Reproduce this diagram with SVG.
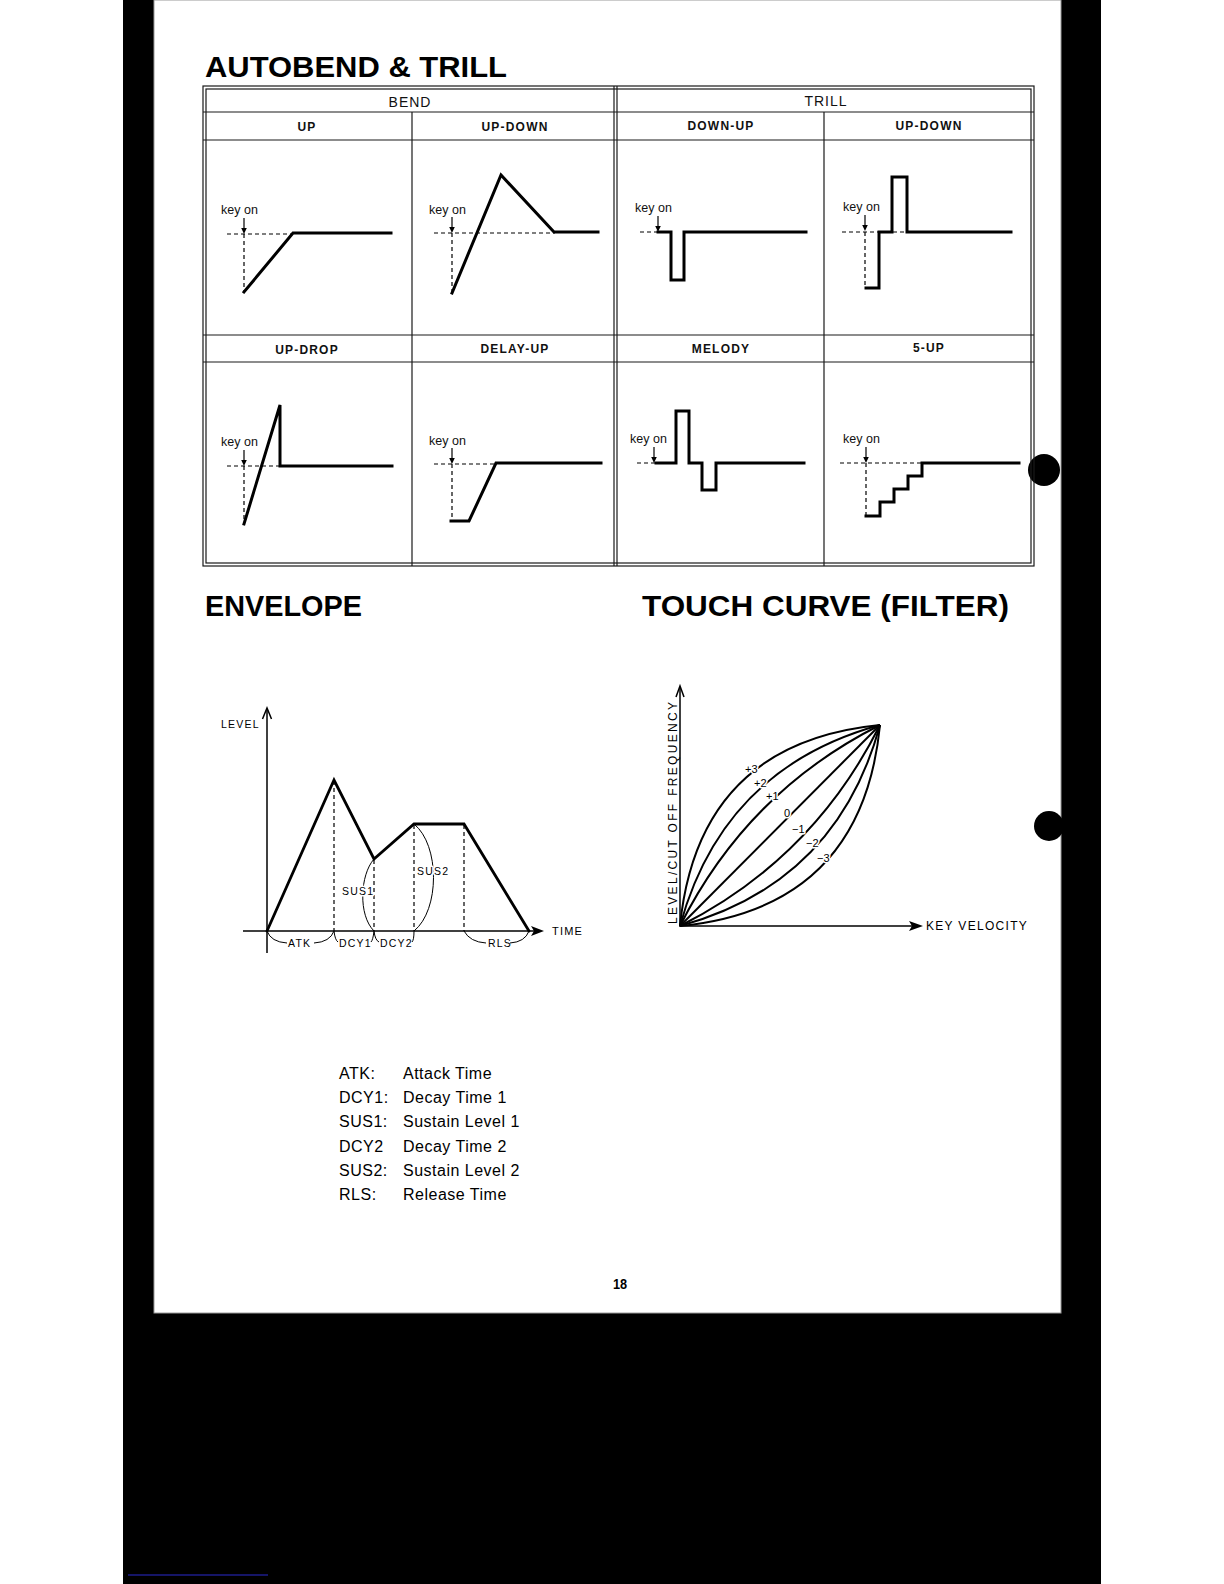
<svg xmlns="http://www.w3.org/2000/svg" width="1224" height="1584" viewBox="0 0 1224 1584">
<style>
.sans{font-family:"Liberation Sans",Arial,sans-serif}
.ttl{font-family:"Liberation Sans",Arial,sans-serif;font-size:29px;font-weight:bold;fill:#000}
.tb{fill:none;stroke:#1a1a1a;stroke-width:1.2}
.th{font-family:"Liberation Sans",Arial,sans-serif;font-size:14px;fill:#111;text-anchor:middle;letter-spacing:1px}
.tl{font-family:"Liberation Sans",Arial,sans-serif;font-size:12px;font-weight:bold;fill:#111;text-anchor:middle;letter-spacing:1.2px}
.ko{font-family:"Liberation Sans",Arial,sans-serif;font-size:12.5px;fill:#111}
.w{fill:none;stroke:#000;stroke-width:3;stroke-linejoin:miter;stroke-linecap:square}
.d{fill:none;stroke:#000;stroke-width:1.2;stroke-dasharray:4 3}
.ar{stroke:#000;stroke-width:1.2}
.ah{fill:#000}
.ax{fill:none;stroke:#000;stroke-width:1.5}
.el{font-family:"Liberation Sans",Arial,sans-serif;font-size:10.5px;fill:#000;letter-spacing:1.2px}
.halo{paint-order:stroke;stroke:#fff;stroke-width:3px;stroke-linejoin:round}
.cv{fill:none;stroke:#000;stroke-width:2}
.br{fill:none;stroke:#000;stroke-width:1}
.lg{font-family:"Liberation Sans",Arial,sans-serif;font-size:16px;fill:#000;letter-spacing:0.5px}
</style>
<defs>
<g id="kon"><line x1="0" y1="0" x2="0" y2="11" class="ar"/><polygon points="-2.8,10 2.8,10 0,16" class="ah"/></g>
</defs>
<rect x="0" y="0" width="1224" height="1584" fill="#fff"/>
<rect x="123" y="0" width="978" height="1584" fill="#000"/>
<rect x="154" y="0" width="907" height="1313" fill="#fff" stroke="#9a9a9a" stroke-width="1"/>
<line x1="128" y1="1575" x2="268" y2="1575" stroke="#1c1c8a" stroke-width="1.6"/>
<circle cx="1044" cy="470" r="16" fill="#000"/>
<circle cx="1049" cy="826" r="15" fill="#000"/>

<text class="ttl" x="205" y="77" textLength="302" lengthAdjust="spacingAndGlyphs">AUTOBEND &amp; TRILL</text>

<g id="table">
<rect class="tb" x="203" y="86" width="831" height="480"/>
<rect class="tb" x="206" y="89" width="825" height="474"/>
<line class="tb" x1="203" y1="112" x2="1034" y2="112"/>
<line class="tb" x1="203" y1="140" x2="1034" y2="140"/>
<line class="tb" x1="203" y1="335" x2="1034" y2="335"/>
<line class="tb" x1="203" y1="362" x2="1034" y2="362"/>
<line class="tb" x1="614" y1="86" x2="614" y2="566"/>
<line class="tb" x1="617" y1="86" x2="617" y2="566"/>
<line class="tb" x1="412" y1="112" x2="412" y2="566"/>
<line class="tb" x1="824" y1="112" x2="824" y2="566"/>
<text class="th" x="410" y="107">BEND</text>
<text class="th" x="826" y="106">TRILL</text>
<text class="tl" x="307" y="131">UP</text>
<text class="tl" x="515" y="131">UP-DOWN</text>
<text class="tl" x="721" y="130">DOWN-UP</text>
<text class="tl" x="929" y="130">UP-DOWN</text>
<text class="tl" x="307" y="354">UP-DROP</text>
<text class="tl" x="515" y="353">DELAY-UP</text>
<text class="tl" x="721" y="353">MELODY</text>
<text class="tl" x="929" y="352">5-UP</text>
</g>

<g id="cell-up">
<text class="ko" x="221" y="214">key on</text>
<use href="#kon" x="244" y="218"/>
<path class="d" d="M227,234 H293 M244,234 V292"/>
<path class="w" d="M244,292 L293,233 H391"/>
</g>

<g id="cell-updown">
<text class="ko" x="429" y="214">key on</text>
<use href="#kon" x="452" y="217"/>
<path class="d" d="M434,233 H555 M452,233 V292"/>
<path class="w" d="M452,293 L501,175 L554,232 H598"/>
</g>

<g id="cell-downup">
<text class="ko" x="635" y="212">key on</text>
<use href="#kon" x="658" y="216"/>
<path class="d" d="M640,232 H658"/>
<path class="w" d="M658,232 H671 V280 H684 V232 H806"/>
</g>

<g id="cell-trill-updown">
<text class="ko" x="843" y="211">key on</text>
<use href="#kon" x="865" y="215"/>
<path class="d" d="M842,232 H880 M865,232 V288 M893,232 H908"/>
<path class="w" d="M866,288 H879 V232 H892 V177 H907 V232 H1011"/>
</g>

<g id="cell-updrop">
<text class="ko" x="221" y="446">key on</text>
<use href="#kon" x="244" y="450"/>
<path class="d" d="M227,466 H280 M244,466 V523"/>
<path class="w" d="M244,524 L280,405 V466 H392"/>
</g>

<g id="cell-delayup">
<text class="ko" x="429" y="445">key on</text>
<use href="#kon" x="452" y="448"/>
<path class="d" d="M434,464 H497 M452,464 V521"/>
<path class="w" d="M451,521 H469 L496,463 H601"/>
</g>

<g id="cell-melody">
<text class="ko" x="630" y="443">key on</text>
<use href="#kon" x="654" y="447"/>
<path class="d" d="M637,463 H656 M689,463 H702 M716,463 H730"/>
<path class="w" d="M656,463 H676 V411 H689 V463 H702 V490 H716 V463 H804"/>
</g>

<g id="cell-5up">
<text class="ko" x="843" y="443">key on</text>
<use href="#kon" x="866" y="447"/>
<path class="d" d="M840,463 H922 M866,463 V516"/>
<path class="w" d="M866,516 H880 V502 H894 V489 H908 V476 H922 V463 H1019"/>
</g>

<text class="ttl" x="205" y="616" textLength="157" lengthAdjust="spacingAndGlyphs">ENVELOPE</text>
<text class="ttl" x="642" y="616" textLength="367" lengthAdjust="spacingAndGlyphs">TOUCH CURVE (FILTER)</text>

<g id="envelope">
<line class="ax" x1="267" y1="953" x2="267" y2="709"/>
<path class="ax" d="M262.5,719 L267,708 L271.5,719"/>
<line class="ax" x1="243" y1="931" x2="536" y2="931"/>
<polygon class="ah" points="544,931 531,926 534,931 531,936"/>
<text class="el" x="221" y="728" letter-spacing="1">LEVEL</text>
<text class="el" x="552" y="935" style="font-size:11px">TIME</text>
<path class="d" d="M334,781 V931 M374,860 V931 M414,825 V931 M464,825 V931"/>
<path class="w" style="stroke-linejoin:miter;stroke-linecap:round;stroke-width:2.8" d="M267,931 L334,780 L374,859 L414,824 H464 L529,931"/>
<path class="br" d="M374,859 C360,875 358,915 374,931"/>
<path class="br" d="M414,824 C440,845 440,910 414,931"/>
<text class="el halo" x="342" y="895">SUS1</text>
<text class="el halo" x="417" y="875">SUS2</text>
<path class="br" d="M267,931 Q271,942 287,943 M314,943 Q330,942 334,931"/>
<text class="el" x="288" y="947">ATK</text>
<path class="br" d="M334,931 Q335,940 338,942 M371,942 Q373,940 374,931"/>
<text class="el" x="339" y="947" letter-spacing="0.8">DCY1</text>
<path class="br" d="M374,931 Q375,940 379,942 M412,942 Q414,940 414,931"/>
<text class="el" x="380" y="947" letter-spacing="0.8">DCY2</text>
<path class="br" d="M464,931 Q470,942 486,943 M510,943 Q525,942 529,931"/>
<text class="el" x="488" y="947" letter-spacing="0.6">RLS</text>
</g>

<g id="touch-curve">
<line class="ax" x1="680" y1="927" x2="680" y2="687"/>
<path class="ax" d="M676,697 L680,686 L684,697"/>
<line class="ax" x1="680" y1="926" x2="914" y2="926"/>
<polygon class="ah" points="923,926 909,921 912,926 909,931"/>
<text class="sans" x="926" y="930" font-size="12" letter-spacing="1.3">KEY VELOCITY</text>
<text class="sans" transform="translate(677,924) rotate(-90)" font-size="12" textLength="222" lengthAdjust="spacing">LEVEL/CUT OFF FREQUENCY</text>
<path class="cv" d="M680,926 Q698,743 880,725"/>
<path class="cv" d="M680,926 Q723,768 880,725"/>
<path class="cv" d="M680,926 Q747,792 880,725"/>
<path class="cv" d="M680,926 L880,725"/>
<path class="cv" d="M680,926 Q813,859 880,725"/>
<path class="cv" d="M680,926 Q837,883 880,725"/>
<path class="cv" d="M680,926 Q862,908 880,725"/>
<text class="sans halo" x="745" y="773" font-size="11">+3</text>
<text class="sans halo" x="754" y="787" font-size="11">+2</text>
<text class="sans halo" x="766" y="800" font-size="11">+1</text>
<text class="sans halo" x="784" y="817" font-size="11">0</text>
<text class="sans halo" x="792" y="833" font-size="11">−1</text>
<text class="sans halo" x="806" y="847" font-size="11">−2</text>
<text class="sans halo" x="817" y="862" font-size="11">−3</text>
</g>

<g id="legend">
<text class="lg" x="339" y="1079">ATK:</text><text class="lg" x="403" y="1079">Attack Time</text>
<text class="lg" x="339" y="1103">DCY1:</text><text class="lg" x="403" y="1103">Decay Time 1</text>
<text class="lg" x="339" y="1127">SUS1:</text><text class="lg" x="403" y="1127">Sustain Level 1</text>
<text class="lg" x="339" y="1152">DCY2</text><text class="lg" x="403" y="1152">Decay Time 2</text>
<text class="lg" x="339" y="1176">SUS2:</text><text class="lg" x="403" y="1176">Sustain Level 2</text>
<text class="lg" x="339" y="1200">RLS:</text><text class="lg" x="403" y="1200">Release Time</text>
</g>

<text x="620" y="1289" text-anchor="middle" font-family="'Liberation Sans Narrow','Liberation Sans',Arial,sans-serif" font-size="15" font-weight="bold" transform="translate(620,0) scale(0.85,1) translate(-620,0)">18</text>
</svg>
